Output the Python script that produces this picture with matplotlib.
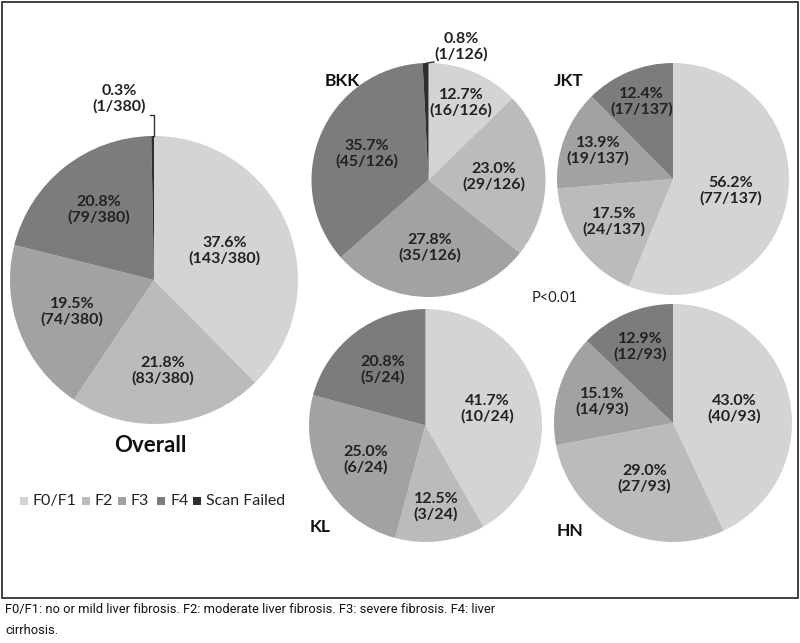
import matplotlib
matplotlib.use("Agg")
import matplotlib.pyplot as plt
import numpy as np
from matplotlib.patches import Rectangle

# ---------------- data ----------------
categories = ["F0/F1", "F2", "F3", "F4", "Scan Failed"]
overall_pct = [37.6, 21.8, 19.5, 20.8, 0.3]
overall_n = ["143/380", "83/380", "74/380", "79/380", "1/380"]
bkk_pct = [12.7, 23.0, 27.8, 35.7, 0.8]
bkk_n = ["16/126", "29/126", "35/126", "45/126", "1/126"]
jkt_pct = [56.2, 17.5, 13.9, 12.4]
jkt_n = ["77/137", "24/137", "19/137", "17/137"]
kl_pct = [41.7, 12.5, 25.0, 20.8]
kl_n = ["10/24", "3/24", "6/24", "5/24"]
hn_pct = [43.0, 29.0, 15.1, 12.9]
hn_n = ["40/93", "27/93", "14/93", "12/93"]
p_text = "P<0.01"
caption_lines = ["F0/F1: no or mild liver fibrosis. F2: moderate liver fibrosis. "
                 "F3: severe fibrosis. F4: liver", "cirrhosis."]

colors = ["#d4d4d4", "#bbbbbb", "#a2a2a2", "#7c7c7c", "#2e2e2e"]

W, H = 800, 643
fig = plt.figure(figsize=(W / 100, H / 100), dpi=100)
ax = fig.add_axes([0, 0, 1, 1])

FONT = ["Lato", "DejaVu Sans"]
LBL = 11.5


def Y(y):  # pixel-from-top to data coordinate
    return H - y


def draw_pie(vals, ns, cx, cy, r, label_r, title=None, tpos=None, tsize=12.5):
    wedges, _ = ax.pie(vals, colors=colors[:len(vals)], startangle=90,
                       counterclock=False, center=(cx, Y(cy)), radius=r,
                       frame=True, wedgeprops=dict(linewidth=0))
    for i, w in enumerate(wedges):
        if label_r[i] is None:
            continue
        mid = np.deg2rad((w.theta1 + w.theta2) / 2)
        tx = cx + label_r[i] * r * np.cos(mid)
        ty = Y(cy) + label_r[i] * r * np.sin(mid)
        ax.text(tx, ty, f"{vals[i]:.1f}%\n({ns[i]})", ha="center", va="center",
                fontsize=LBL, fontweight="bold", family=FONT, color="#222222",
                linespacing=1.1)
    if title:
        ax.text(tpos[0], Y(tpos[1]), title, ha="center", va="center",
                fontsize=tsize, fontweight="bold", family=FONT, color="#111111")
    return wedges


# Overall
draw_pie(overall_pct, overall_n, 154, 280, 144, [0.53, 0.63, 0.61, 0.62, None],
         "Overall", (150, 445), 16)
ax.text(119, Y(99), f"{overall_pct[4]:.1f}%\n({overall_n[4]})", ha="center",
        va="center", fontsize=LBL, fontweight="bold", family=FONT,
        color="#222222", linespacing=1.1)
ax.plot([154, 154, 150], [Y(136), Y(115), Y(115)], color="#333333", lw=1)

# BKK
draw_pie(bkk_pct, bkk_n, 428.5, 180, 117, [0.72, 0.56, 0.58, 0.57, None],
         "BKK", (342, 81))
ax.text(461, Y(47), f"{bkk_pct[4]:.1f}%\n({bkk_n[4]})", ha="center",
        va="center", fontsize=LBL, fontweight="bold", family=FONT,
        color="#222222", linespacing=1.1)
ax.plot([427, 434], [Y(63), Y(62)], color="#333333", lw=1)

# JKT
draw_pie(jkt_pct, jkt_n, 673, 179, 116, [0.51, 0.63, 0.69, 0.72],
         "JKT", (569, 81))

# KL
draw_pie(kl_pct, kl_n, 425.5, 425.5, 116.5, [0.55, 0.70, 0.59, 0.60],
         "KL", (320, 527))

# HN
draw_pie(hn_pct, hn_n, 673, 423, 119, [0.53, 0.53, 0.62, 0.70],
         "HN", (570, 531))

ax.text(555, Y(298), p_text, ha="center", va="center", fontsize=10.5,
        family=FONT, color="#222222")

# legend
lx = [20, 82, 118, 157, 193]
for i, c in enumerate(categories):
    ax.add_patch(Rectangle((lx[i], Y(505)), 8, 8, color=colors[i], lw=0))
    ax.text(lx[i] + 13, Y(501), c, ha="left", va="center", fontsize=11.5,
            family=FONT, color="#222222")

# border box
ax.add_patch(Rectangle((1.5, Y(598)), 796, 596, fill=False,
                       edgecolor="#333333", lw=1.3))

# caption
for k, line in enumerate(caption_lines):
    ax.text(5, Y(609 + 22 * k), line, ha="left", va="center", fontsize=9.3,
            family=["Roboto", "DejaVu Sans"], color="#111111")

ax.set_xlim(0, W)
ax.set_ylim(0, H)
ax.set_aspect("equal")
ax.axis("off")

fig.savefig("out.png", dpi=100)
